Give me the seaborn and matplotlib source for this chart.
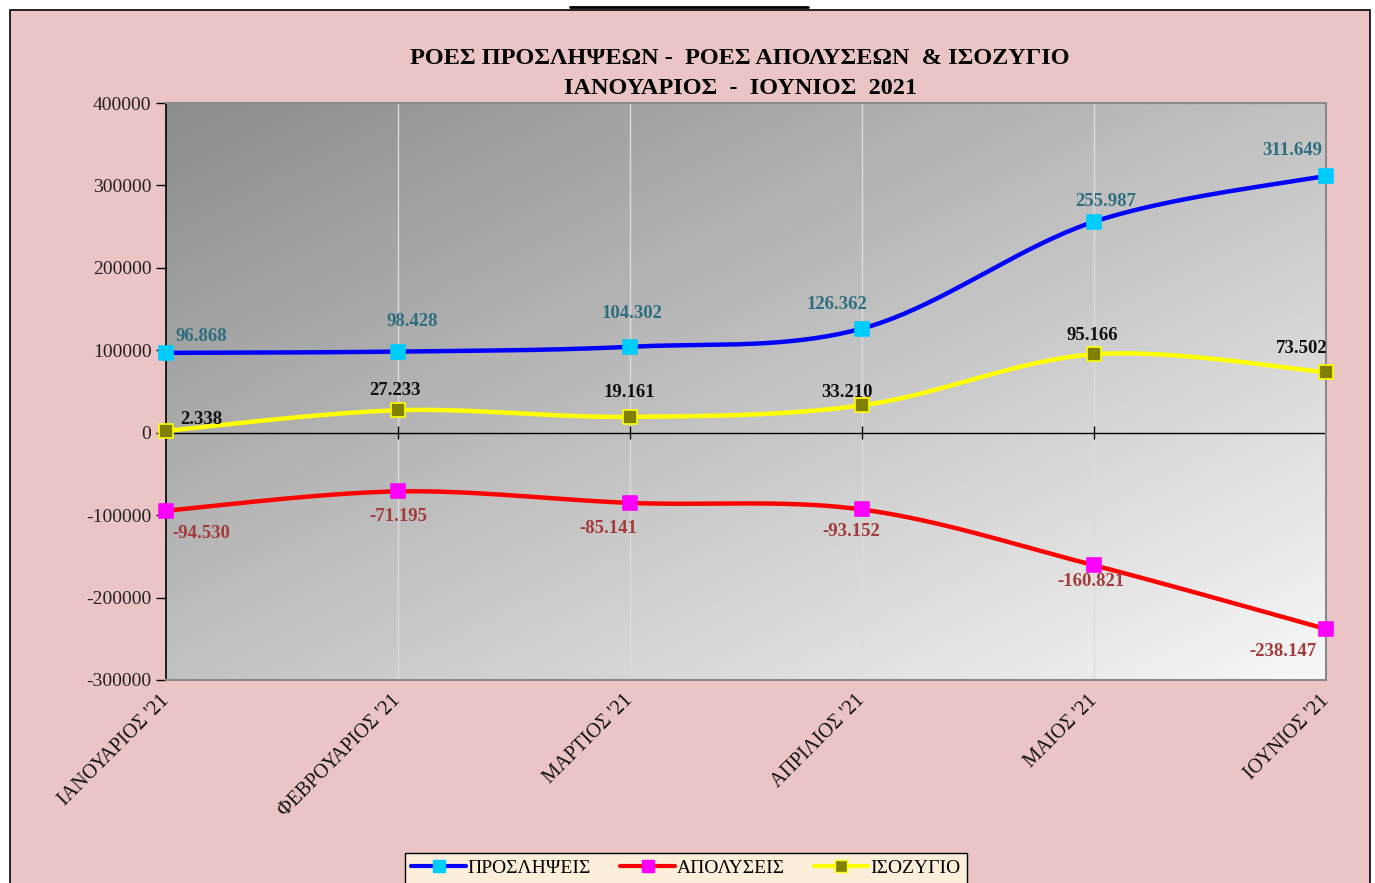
import numpy as np
import pandas as pd
import matplotlib.pyplot as plt
import seaborn as sns
from matplotlib.lines import Line2D
from matplotlib.patches import Rectangle

# Δεδομένα
months = ["ΙΑΝΟΥΑΡΙΟΣ '21", "ΦΕΒΡΟΥΑΡΙΟΣ '21", "ΜΑΡΤΙΟΣ '21",
          "ΑΠΡΙΛΙΟΣ '21", "ΜΑΙΟΣ '21", "ΙΟΥΝΙΟΣ '21"]
hires = [96868, 98428, 104302, 126362, 255987, 311649]
layoffs = [-94530, -71195, -85141, -93152, -160821, -238147]
balance = [2338, 27233, 19161, 33210, 95166, 73502]
series_names = ["ΠΡΟΣΛΗΨΕΙΣ", "ΑΠΟΛΥΣΕΙΣ", "ΙΣΟΖΥΓΙΟ"]
y_ticks = [-300000, -200000, -100000, 0, 100000, 200000, 300000, 400000]

# θέσεις ετικετών (offset σε pixels)
off_hires = [(35, 16), (14, 30), (2, 33), (-25, 24), (12, 20), (-34, 25)]
off_layoffs = [(35, -23), (0, -25), (-22, -26), (-11, -22), (-3, -16), (-43, -22)]
off_balance = [(35, 11), (-3, 20), (-1, 24), (-15, 13), (-2, 19), (-24, 24)]


def smooth(ys, n=40):
    # καμπύλη τύπου Catmull-Rom (όπως η "smoothed line" του Excel)
    pts = np.column_stack([np.arange(len(ys)), ys]).astype(float)
    out = []
    for i in range(len(pts) - 1):
        p0 = pts[i - 1] if i > 0 else pts[i]
        p1, p2 = pts[i], pts[i + 1]
        p3 = pts[i + 2] if i + 2 < len(pts) else pts[i + 1]
        t = np.linspace(0, 1, n)[:, None]
        c = 0.5 * (2 * p1 + (-p0 + p2) * t + (2 * p0 - 5 * p1 + 4 * p2 - p3) * t ** 2
                   + (-p0 + 3 * p1 - 3 * p2 + p3) * t ** 3)
        out.append(c)
    c = np.vstack(out)
    return pd.DataFrame({'x': c[:, 0], 'y': c[:, 1]})


sns.set_theme(style="white")
plt.rcParams['font.family'] = ['Liberation Serif', 'DejaVu Serif']
plt.rcParams['text.color'] = 'black'

pink = '#ebc5c6'
fig = plt.figure(figsize=(13.75, 8.83), dpi=100, facecolor='white')
fig.patches.append(Rectangle((10 / 1375, -0.05), 1360 / 1375, 1 - 10 / 883 + 0.05,
                             transform=fig.transFigure, facecolor=pink,
                             edgecolor='black', linewidth=1.2, zorder=-10))

ax = fig.add_axes([166 / 1375, 203 / 883, 1160 / 1375, 577 / 883])

# φόντο με διαβάθμιση
H, W = 200, 300
ii, jj = np.mgrid[0:H, 0:W]
grad = 0.55 + 0.42 * (jj / W * 0.5 + ii / H * 0.5)
ax.imshow(grad, extent=[0, 5, -300000, 400000], aspect='auto', cmap='gray',
          vmin=0, vmax=1, zorder=0, interpolation='bilinear')

for x in range(1, 6):
    ax.axvline(x, color='#dcdcdc', lw=1, zorder=1)
ax.axhline(0, color='black', lw=1, zorder=2)
ax.vlines(range(6), -8000, 8000, color='black', lw=1, zorder=2)

styles = [
    (hires, '#0000ff', '#00ccff', '#00ccff', '#2f6e80', off_hires),
    (layoffs, '#ff0000', '#ff00ff', '#ff00ff', '#a33a3c', off_layoffs),
    (balance, '#ffff00', '#808000', '#ffff00', '#111111', off_balance),
]

for vals, lc, mc, me, tc, offs in styles:
    sm = smooth(vals)
    sns.lineplot(data=sm, x='x', y='y', sort=False, estimator=None, color=lc,
                 lw=3.2, ax=ax, zorder=3)
    pts = pd.DataFrame({'x': range(6), 'y': vals})
    sns.scatterplot(data=pts, x='x', y='y', marker='s', s=110, color=mc,
                    edgecolor=me, linewidth=1.2, ax=ax, zorder=4, clip_on=False)
    for i, v in enumerate(vals):
        ax.annotate(f"{v:,}".replace(',', '.'), (i, v), xytext=offs[i],
                    textcoords='offset pixels', ha='center', va='center',
                    fontsize=13.5, fontweight='bold', color=tc, zorder=5)

ax.set_xlim(0, 5)
ax.set_ylim(-300000, 400000)
ax.set_yticks(y_ticks)
ax.set_yticklabels([str(t) for t in y_ticks], fontsize=14, color='#222222')
ax.set_xticks(range(6))
ax.set_xticklabels(months, rotation=45, ha='right', va='center',
                   rotation_mode='anchor', fontsize=14.5, color='#111111')
ax.tick_params(axis='y', length=7, width=1, color='black', direction='out', left=True)
ax.tick_params(axis='x', length=0, pad=13)
ax.set_xlabel('')
ax.set_ylabel('')
for s in ['top', 'right', 'bottom']:
    ax.spines[s].set_color('#8a8a8a')
    ax.spines[s].set_linewidth(1.5)
ax.spines['left'].set_color('black')
ax.spines['left'].set_linewidth(1.2)

# τίτλος
fig.text(740 / 1375, 1 - 58 / 883, "ΡΟΕΣ ΠΡΟΣΛΗΨΕΩΝ -  ΡΟΕΣ ΑΠΟΛΥΣΕΩΝ  & ΙΣΟΖΥΓΙΟ",
         ha='center', va='center', fontsize=17.5, fontweight='bold', color='black')
fig.text(740 / 1375, 1 - 89 / 883, "ΙΑΝΟΥΑΡΙΟΣ  -  ΙΟΥΝΙΟΣ  2021",
         ha='center', va='center', fontsize=17.5, fontweight='bold', color='black')

# υπογράμμιση της (κομμένης) επικεφαλίδας στην κορυφή
fig.add_artist(Line2D([570 / 1375, 808 / 1375], [1 - 7 / 883, 1 - 7 / 883],
                      transform=fig.transFigure, color='black', lw=2))

# υπόμνημα
handles = [
    Line2D([], [], color='#0000ff', lw=3, marker='s', markersize=9,
           markerfacecolor='#00ccff', markeredgecolor='#00ccff'),
    Line2D([], [], color='#ff0000', lw=3, marker='s', markersize=9,
           markerfacecolor='#ff00ff', markeredgecolor='#ff00ff'),
    Line2D([], [], color='#ffff00', lw=3, marker='s', markersize=9,
           markerfacecolor='#808000', markeredgecolor='#ffff00'),
]
leg = fig.legend(handles, series_names, loc='lower center', ncol=3,
                 bbox_to_anchor=(686 / 1375, -0.012), fontsize=14,
                 frameon=True, fancybox=False, edgecolor='black',
                 facecolor='#fbefda', framealpha=1, handlelength=2.8,
                 handletextpad=0.1, columnspacing=1.5, borderpad=0.35)
leg.get_frame().set_linewidth(1)

fig.savefig('out.png', dpi=100, facecolor=fig.get_facecolor())
